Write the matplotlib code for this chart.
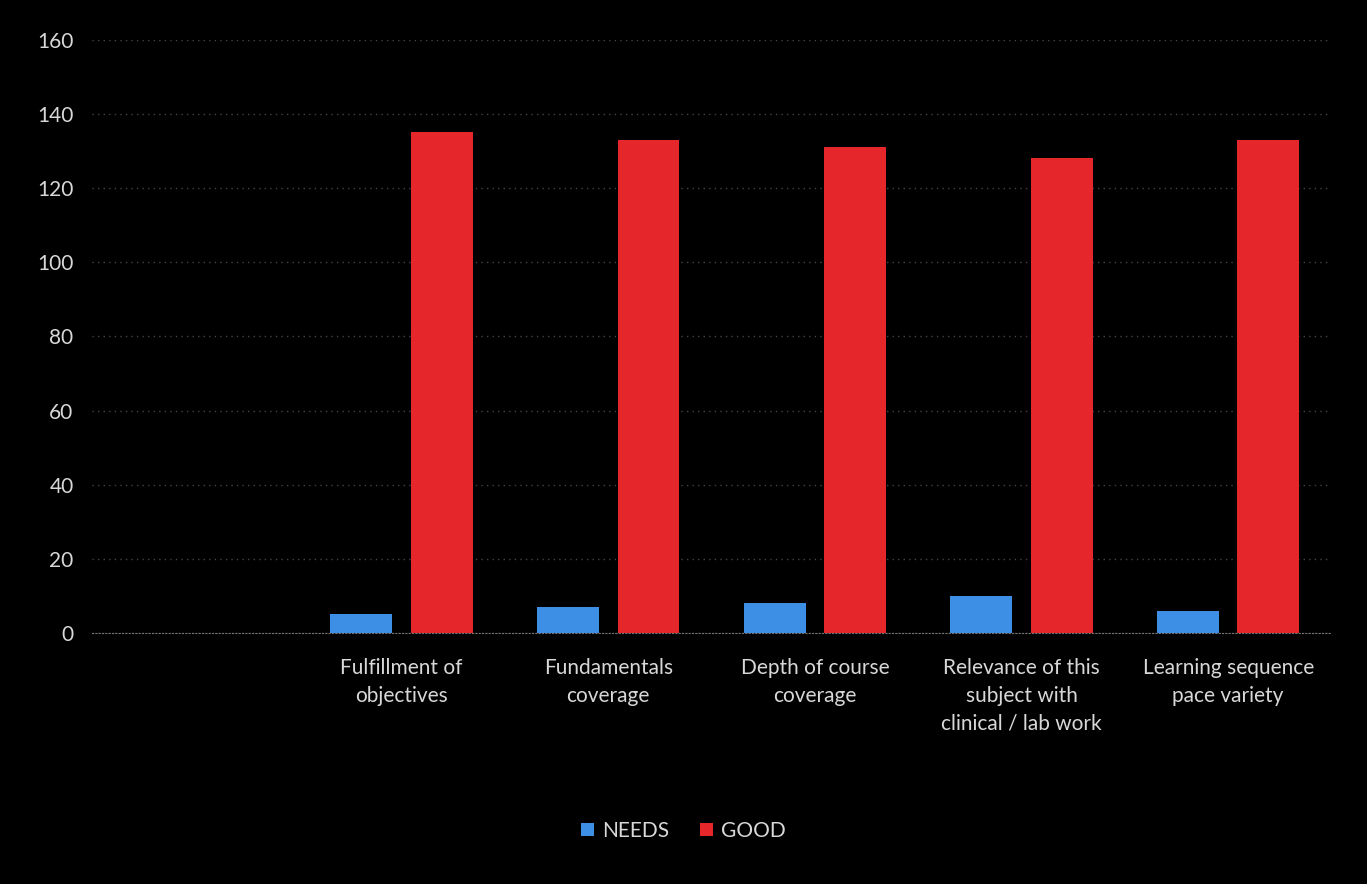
import numpy as np
import matplotlib.pyplot as plt

plt.rcParams['font.family'] = ['Lato', 'DejaVu Sans']

categories = ["", "Fulfillment of\nobjectives", "Fundamentals\ncoverage",
              "Depth of course\ncoverage", "Relevance of this\nsubject with\nclinical / lab work",
              "Learning sequence\npace variety"]
needs = [0, 5, 7, 8, 10, 6]
good = [0, 135, 133, 131, 128, 133]
yticks = [0, 20, 40, 60, 80, 100, 120, 140, 160]

x = np.arange(len(categories))
w = 0.3

fig = plt.figure(figsize=(13.67, 8.84), dpi=100, facecolor="black")
ax = fig.add_axes([0.067, 0.284, 0.907, 0.671])
ax.set_facecolor("black")

ax.bar(x - 0.195, needs, width=w, color="#3d8fe6", label="NEEDS", zorder=3)
ax.bar(x + 0.195, good, width=w, color="#e5262b", label="GOOD", zorder=3)

ax.set_xlim(-0.5, len(categories) - 0.5)
ax.set_ylim(0, 160)
ax.set_yticks(yticks)
ax.set_xticks(x)
ax.set_xticklabels(categories, fontsize=15, color="#d8d8d8", linespacing=1.5)
ax.tick_params(axis="y", labelsize=15, labelcolor="#d8d8d8", length=0, pad=13)
ax.tick_params(axis="x", length=0, pad=18)
ax.yaxis.grid(True, linestyle=(0, (1, 3)), color="#444444", linewidth=1, zorder=0)

for s in ["top", "right", "left"]:
    ax.spines[s].set_visible(False)
ax.spines["bottom"].set_color("#777777")
ax.spines["bottom"].set_linestyle((0, (1, 2)))

leg = fig.legend(loc="center", bbox_to_anchor=(0.5, 0.06), ncol=2, frameon=False,
                 fontsize=15, handlelength=0.6, handleheight=0.6, columnspacing=1.5,
                 handletextpad=0.4)
for t in leg.get_texts():
    t.set_color("#d8d8d8")

fig.savefig("out.png", dpi=100, facecolor="black")
